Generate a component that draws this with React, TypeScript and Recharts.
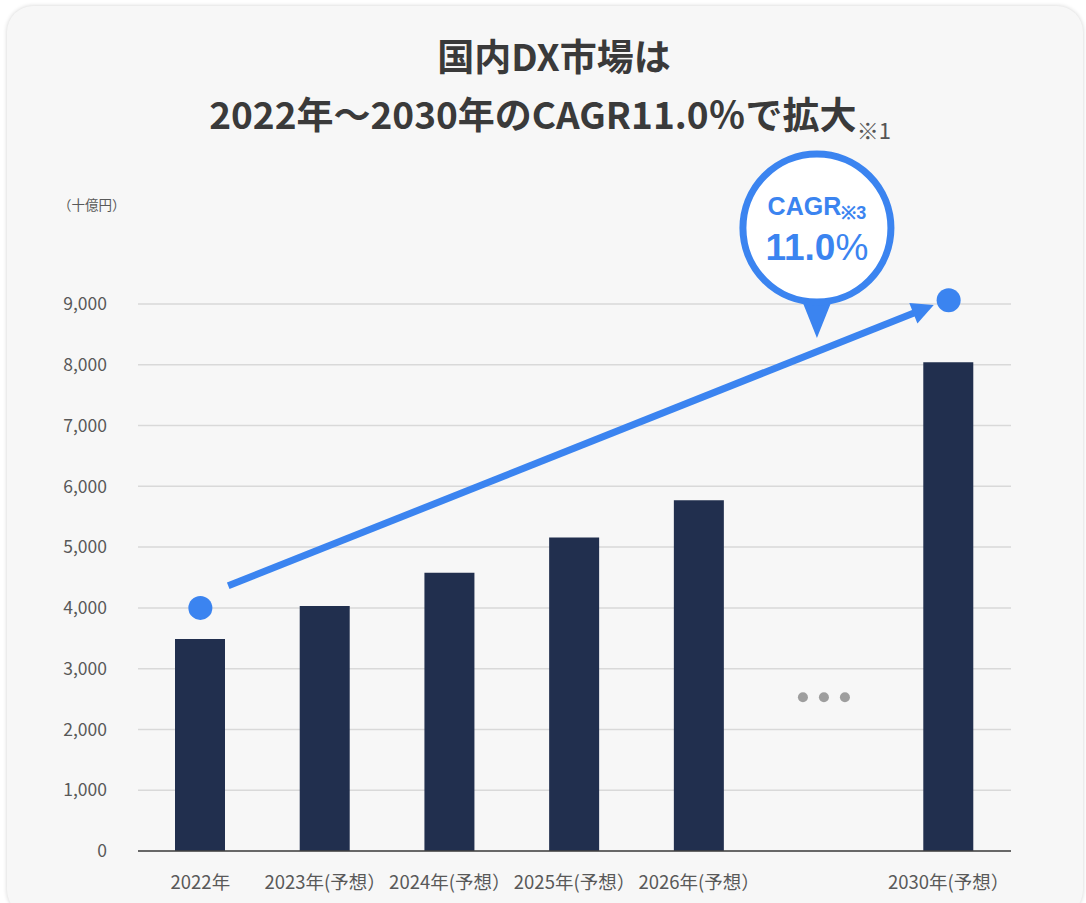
import {
  Bar,
  BarChart,
  CartesianGrid,
  ReferenceDot,
  ReferenceLine,
  XAxis,
  YAxis,
} from "recharts";

const years = [
  "2022年",
  "2023年(予想）",
  "2024年(予想）",
  "2025年(予想）",
  "2026年(予想）",
  "gap",
  "2030年(予想）",
];
const marketSize = [3490, 4030, 4580, 5160, 5770, null, 8040];
const yTicks = [0, 1000, 2000, 3000, 4000, 5000, 6000, 7000, 8000, 9000];

// annotation values (blue dots / arrow / bubble)
const cagrStart = 4000;
const cagrEnd = 9060;
const arrowStart = 4180;
const arrowEnd = 9080;
const bubbleLevel = 10250;
const ellipsisLevel = 2530;

const data = years.map((year, i) => ({ year, value: marketSize[i] }));

const BLUE = "#3b84f0";
const NAVY = "#212f4e";
const FONT = "'Noto Sans CJK JP', 'Noto Sans', sans-serif";

function Arrow(props: any) {
  const { x1, y1, x2, y2 } = props;
  const dx = x2 - x1;
  const dy = y2 - y1;
  const len = Math.sqrt(dx * dx + dy * dy);
  const ux = dx / len;
  const uy = dy / len;
  const sx = x1 + ux * 30;
  const sy = y1 + uy * 30;
  const tx = x2 - ux * 16;
  const ty = y2 - uy * 16;
  const head = 22;
  const half = 11;
  const bx = tx - ux * head;
  const by = ty - uy * head;
  return (
    <g>
      <line x1={sx} y1={sy} x2={bx + ux * 2} y2={by + uy * 2} stroke={BLUE} strokeWidth={7} />
      <polygon
        points={`${tx},${ty} ${bx - uy * half},${by + ux * half} ${bx + uy * half},${by - ux * half}`}
        fill={BLUE}
      />
    </g>
  );
}

function Bubble(props: any) {
  const cx = props.cx - 7;
  const cy = props.cy;
  return (
    <g>
      <polygon points={`${cx - 16},${cy + 70} ${cx + 16},${cy + 70} ${cx},${cy + 110}`} fill={BLUE} />
      <circle cx={cx} cy={cy} r={74} fill="#fff" stroke={BLUE} strokeWidth={7} />
      <text x={cx} y={cy - 13} textAnchor="middle" fill={BLUE} fontFamily="Liberation Sans, Arial, sans-serif" fontWeight={700} fontSize={25}>
        CAGR
        <tspan fontSize={18} dy={4}>※3</tspan>
      </text>
      <text x={cx} y={cy + 32} textAnchor="middle" fill={BLUE} fontFamily="Liberation Sans, Arial, sans-serif" fontWeight={700} fontSize={37}>
        11.0<tspan fontWeight={400}>%</tspan>
      </text>
    </g>
  );
}

function Ellipsis(props: any) {
  const { cx, cy } = props;
  return (
    <g fill="#9e9e9e">
      <circle cx={cx - 21} cy={cy} r={5} />
      <circle cx={cx} cy={cy} r={5} />
      <circle cx={cx + 21} cy={cy} r={5} />
    </g>
  );
}

function BlueDot(props: any) {
  return <circle cx={props.cx} cy={props.cy} r={12} fill={BLUE} />;
}

export default function App() {
  return (
    <div style={{ position: "absolute", left: 0, top: 0, width: 1086, height: 903, background: "#fff", overflow: "hidden" }}>
      <div
        style={{
          position: "absolute",
          left: 7,
          top: 6,
          width: 1076,
          height: 910,
          borderRadius: 26,
          background: "#f7f7f7",
          boxShadow: "0 0 4px rgba(0,0,0,0.18)",
        }}
      />
      <div
        style={{
          position: "absolute",
          left: 0,
          top: 26,
          width: 1086,
          textAlign: "center",
          fontFamily: FONT,
          fontWeight: 700,
          fontSize: 37,
          lineHeight: "58px",
          color: "#3a3a3a",
        }}
      >
        <div style={{ paddingLeft: 22 }}>国内DX市場は</div>
        <div style={{ paddingLeft: 14 }}>
          2022年～2030年のCAGR11.0％で拡大
          <span style={{ fontSize: 22, fontWeight: 400, verticalAlign: -10, color: "#555" }}>※1</span>
        </div>
      </div>
      <div
        style={{
          position: "absolute",
          left: 58,
          top: 194,
          fontFamily: FONT,
          fontSize: 13.5,
          color: "#595959",
        }}
      >
        （十億円）
      </div>
      <div style={{ position: "absolute", left: 0, top: 0 }}>
        <BarChart
          width={1086}
          height={903}
          data={data}
          margin={{ top: 304, right: 75, bottom: 22, left: 78 }}
          barCategoryGap={0}
        >
          <CartesianGrid vertical={false} stroke="#d9d9d9" strokeWidth={1.5} />
          <XAxis
            dataKey="year"
            height={30}
            tickLine={false}
            axisLine={{ stroke: "#404040", strokeWidth: 1.5 }}
            interval={0}
            tickMargin={19}
            tick={{ fill: "#595959", fontSize: 18.5, fontFamily: FONT }}
            tickFormatter={(v: string) => (v === "gap" ? "" : v)}
          />
          <YAxis
            width={60}
            domain={[0, 9000]}
            ticks={yTicks}
            allowDataOverflow
            tickLine={false}
            axisLine={false}
            tickSize={0}
            tickMargin={31}
            tick={{ fill: "#595959", fontSize: 17.5, fontFamily: FONT }}
            tickFormatter={(v: number) => v.toLocaleString("en-US")}
          />
          <Bar dataKey="value" fill={NAVY} barSize={50} isAnimationActive={false} />
          <ReferenceDot x="gap" y={ellipsisLevel} ifOverflow="visible" shape={Ellipsis} />
          <ReferenceLine
            segment={[
              { x: years[0], y: arrowStart },
              { x: years[6], y: arrowEnd },
            ]}
            ifOverflow="visible"
            shape={Arrow}
          />
          <ReferenceDot x={years[0]} y={cagrStart} ifOverflow="visible" shape={BlueDot} />
          <ReferenceDot x={years[6]} y={cagrEnd} ifOverflow="visible" shape={BlueDot} />
          <ReferenceDot x="gap" y={bubbleLevel} ifOverflow="visible" shape={Bubble} />
        </BarChart>
      </div>
    </div>
  );
}
